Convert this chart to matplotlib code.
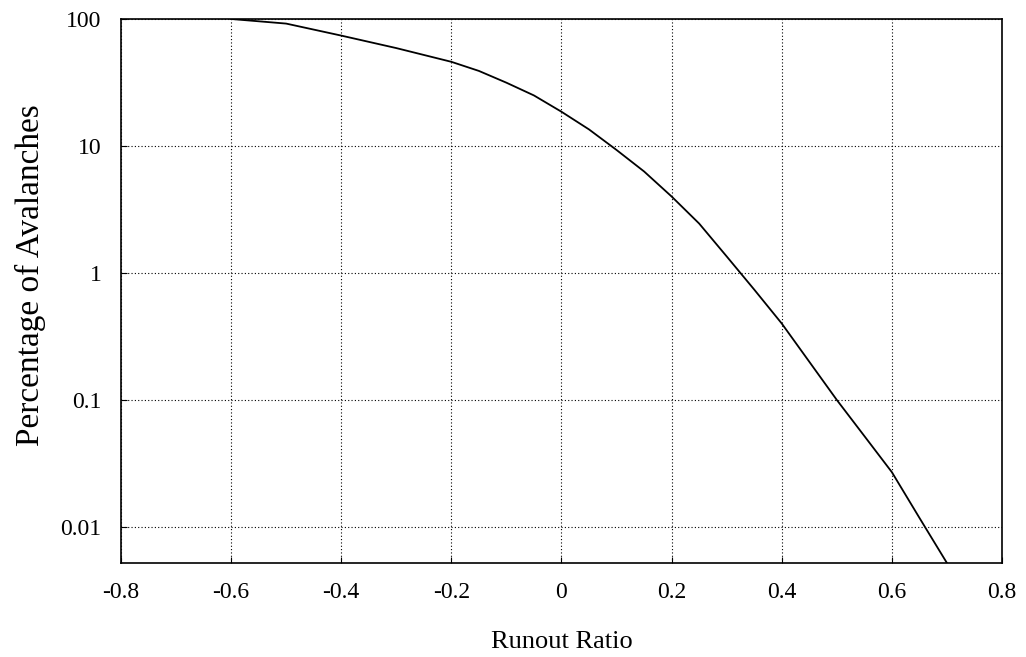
import numpy as np
import matplotlib
matplotlib.use('Agg')
import matplotlib.pyplot as plt

plt.rcParams['font.family'] = ['Liberation Serif', 'DejaVu Serif']

# runout ratio vs percentage of avalanches exceeding it
runout_ratio = [-0.6, -0.5, -0.4, -0.3, -0.2, -0.15, -0.1, -0.05, 0.0, 0.05, 0.1,
                0.15, 0.2, 0.25, 0.3, 0.35, 0.4, 0.45, 0.5, 0.55, 0.6, 0.65, 0.7]
pct_avalanches = [100, 92, 74, 59, 46, 39, 31.5, 25, 18.6, 13.5, 9.3,
                  6.3, 4.0, 2.45, 1.35, 0.74, 0.40, 0.20, 0.10, 0.052, 0.027, 0.0118, 0.0052]

x_ticks = [-0.8, -0.6, -0.4, -0.2, 0, 0.2, 0.4, 0.6, 0.8]
x_labels = ['-0.8', '-0.6', '-0.4', '-0.2', '0', '0.2', '0.4', '0.6', '0.8']
y_ticks = [0.01, 0.1, 1, 10, 100]
y_labels = ['0.01', '0.1', '1', '10', '100']

fig = plt.figure(figsize=(10.26, 6.57), dpi=100)
ax = fig.add_axes([0.1179, 0.1431, 0.8587, 0.8280])

ax.plot(runout_ratio, pct_avalanches, color='black', lw=1.3)

ax.set_yscale('log')
ax.set_xlim(-0.8, 0.8)
ax.set_ylim(0.0052, 100)

ax.set_xticks(x_ticks)
ax.set_xticklabels(x_labels)
ax.set_yticks(y_ticks)
ax.set_yticklabels(y_labels)
ax.yaxis.set_minor_locator(matplotlib.ticker.NullLocator())

ax.tick_params(axis='both', length=4, width=0.8, direction='in', labelsize=17, pad=14)
ax.grid(True, which='major', color='black', linestyle=(0, (1, 2)), lw=0.8)

for s in ax.spines.values():
    s.set_linewidth(1.2)
    s.set_color('black')

ax.set_xlabel('Runout Ratio', fontsize=19, labelpad=20)
ax.set_ylabel('Percentage of Avalanches', fontsize=24)
ax.yaxis.set_label_coords(-0.085, 0.53)

fig.savefig('out.png', dpi=100)
